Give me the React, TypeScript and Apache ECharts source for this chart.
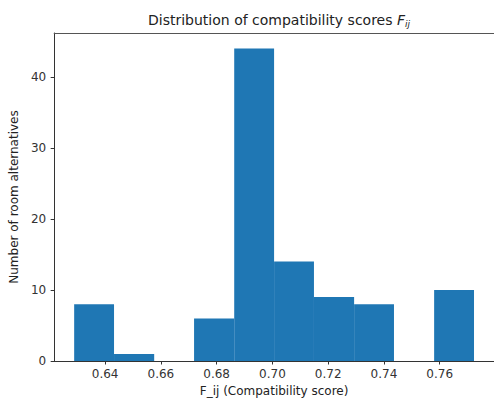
import React, { useEffect, useRef } from "react";
import * as echarts from "echarts";

const binEdges = [0.6289, 0.6432, 0.6576, 0.6719, 0.6863, 0.7006, 0.7149, 0.7293, 0.7436, 0.758, 0.7723];
const counts = [8, 1, 0, 6, 44, 14, 9, 8, 0, 10];
const xTicks = [0.64, 0.66, 0.68, 0.7, 0.72, 0.74, 0.76];
const yTicks = [0, 10, 20, 30, 40];

const FONT = "DejaVu Sans";

export default function App() {
  const ref = useRef<HTMLDivElement>(null);
  useEffect(() => {
    if (!ref.current) return;
    const chart = echarts.init(ref.current, null, { renderer: "svg" });
    const data = counts.map((c, i) => [binEdges[i], binEdges[i + 1], c]);
    const span = binEdges[binEdges.length - 1] - binEdges[0];
    const xMin = binEdges[0] - span * 0.05;
    const xMax = binEdges[binEdges.length - 1] + span * 0.05;
    const yMax = Math.max(...counts) * 1.05;
    chart.setOption({
      animation: false,
      backgroundColor: "#fff",
      title: {
        text: "Distribution of compatibility scores {f|F}{s|ij}",
        left: 274,
        textAlign: "center",
        top: 6,
        textStyle: {
          fontFamily: FONT,
          fontSize: 14,
          fontWeight: "normal",
          color: "#222",
          rich: {
            f: { fontFamily: FONT, fontSize: 14, fontStyle: "italic", color: "#222" },
            s: { fontFamily: FONT, fontSize: 9, fontStyle: "italic", color: "#222", padding: [8, 0, 0, 0] },
          },
        },
      },
      grid: {
        left: 53,
        top: 33,
        right: -1,
        bottom: 42,
        show: false,
      },
      xAxis: [
        {
          type: "value",
          min: xMin,
          max: xMax,
          name: "F_ij (Compatibility score)",
          nameLocation: "middle",
          nameGap: 24,
          nameTextStyle: { fontFamily: FONT, fontSize: 12, color: "#222" },
          splitLine: { show: false },
          axisLine: { show: true, onZero: false, lineStyle: { color: "#333", width: 1 } },
          axisTick: { show: true, length: 3.5, customValues: xTicks, lineStyle: { color: "#333" } },
          axisLabel: {
            customValues: xTicks,
            margin: 7,
            fontFamily: FONT,
            fontSize: 12,
            color: "#333",
            formatter: (v: number) => v.toFixed(2),
          },
        },
        {
          type: "value",
          position: "top",
          min: xMin,
          max: xMax,
          splitLine: { show: false },
          axisLine: { show: true, onZero: false, lineStyle: { color: "#555", width: 1 } },
          axisTick: { show: false },
          axisLabel: { show: false },
        },
      ],
      yAxis: {
        type: "value",
        min: 0,
        max: yMax,
        name: "Number of room alternatives",
        nameLocation: "middle",
        nameRotate: 90,
        nameGap: 25,
        nameTextStyle: { fontFamily: FONT, fontSize: 12, color: "#222" },
        splitLine: { show: false },
        axisLine: { show: true, lineStyle: { color: "#333", width: 1 } },
        axisTick: { show: true, length: 3.5, customValues: yTicks, lineStyle: { color: "#333" } },
        axisLabel: {
          customValues: yTicks,
          margin: 8,
          fontFamily: FONT,
          fontSize: 12,
          color: "#333",
        },
      },
      series: [
        {
          type: "custom",
          xAxisIndex: 0,
          encode: { x: [0, 1], y: 2 },
          data,
          renderItem: (params: any, api: any) => {
            const p0 = api.coord([api.value(0), 0]);
            const p1 = api.coord([api.value(1), api.value(2)]);
            return {
              type: "rect",
              shape: { x: p0[0], y: p1[1], width: p1[0] - p0[0], height: p0[1] - p1[1] },
              style: { fill: "#1f77b4" },
            };
          },
        },
      ],
    });
    return () => chart.dispose();
  }, []);
  return <div ref={ref} style={{ position: "absolute", left: 0, top: 0, width: 494, height: 403 }} />;
}
